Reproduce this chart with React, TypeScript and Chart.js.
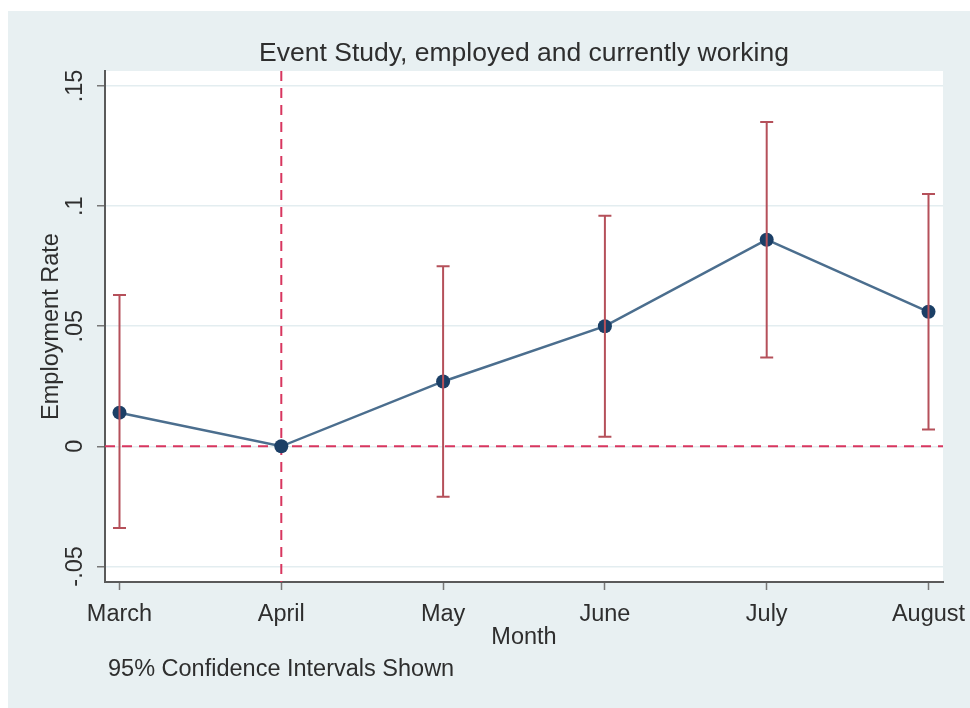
import React, { useEffect, useRef } from "react";
import { Chart, registerables } from "chart.js";

Chart.register(...registerables);

// Event-study estimates by month with 95% confidence bounds
const months = ["March", "April", "May", "June", "July", "August"];
const estimates = [0.014, 0, 0.027, 0.05, 0.086, 0.056];
const ciLower = [-0.034, 0, -0.021, 0.004, 0.037, 0.007];
const ciUpper = [0.063, 0, 0.075, 0.096, 0.135, 0.105];
const yTickValues = [-0.05, 0, 0.05, 0.1, 0.15];
const yTickLabels = ["-.05", "0", ".05", ".1", ".15"];
const eventMonthIndex = 1;

const FONT = '"Liberation Sans", Arial, sans-serif';
const TEXT = "#2e2e2e";
const FRAME_BG = "#e8f0f2";
const REF_RED = "#d8365f";
const CI_RED = "#b5505a";
const LINE_BLUE = "#4b6e8e";
const MARKER_NAVY = "#1b3f66";

const backgroundPlugin = {
  id: "stataBackground",
  beforeDraw(chart: any) {
    const { ctx, width, height, chartArea } = chart;
    ctx.save();
    ctx.fillStyle = "#ffffff";
    ctx.fillRect(0, 0, width, height);
    ctx.fillStyle = FRAME_BG;
    ctx.fillRect(8, 11, width - 8, height - 11);
    ctx.fillStyle = "#ffffff";
    ctx.fillRect(chartArea.left, chartArea.top, chartArea.right - chartArea.left, chartArea.bottom - chartArea.top);
    ctx.restore();
  },
};

const referenceLinesPlugin = {
  id: "referenceLines",
  beforeDatasetsDraw(chart: any) {
    const { ctx, chartArea, scales } = chart;
    const x0 = scales.x.getPixelForValue(eventMonthIndex);
    const y0 = scales.y.getPixelForValue(0);
    ctx.save();
    ctx.strokeStyle = REF_RED;
    ctx.lineWidth = 2;
    ctx.setLineDash([10, 7]);
    ctx.beginPath();
    ctx.moveTo(chartArea.left, y0);
    ctx.lineTo(chartArea.right, y0);
    ctx.stroke();
    ctx.beginPath();
    ctx.moveTo(x0, chartArea.top);
    ctx.lineTo(x0, chartArea.bottom);
    ctx.stroke();
    ctx.restore();
  },
};

const errorBarsPlugin = {
  id: "confidenceIntervals",
  afterDatasetsDraw(chart: any) {
    const { ctx, scales } = chart;
    ctx.save();
    ctx.strokeStyle = CI_RED;
    ctx.lineWidth = 2;
    months.forEach((_, i) => {
      if (ciLower[i] === ciUpper[i]) return;
      const px = scales.x.getPixelForValue(i);
      const lo = scales.y.getPixelForValue(ciLower[i]);
      const hi = scales.y.getPixelForValue(ciUpper[i]);
      ctx.beginPath();
      ctx.moveTo(px, lo);
      ctx.lineTo(px, hi);
      ctx.moveTo(px - 6.5, lo);
      ctx.lineTo(px + 6.5, lo);
      ctx.moveTo(px - 6.5, hi);
      ctx.lineTo(px + 6.5, hi);
      ctx.stroke();
    });
    ctx.restore();
  },
};

const annotationsPlugin = {
  id: "verticalTicksAndNote",
  afterDraw(chart: any) {
    const { ctx, scales } = chart;
    const y = scales.y;
    ctx.save();
    ctx.font = `23.5px ${FONT}`;
    ctx.fillStyle = TEXT;
    ctx.textAlign = "center";
    ctx.textBaseline = "middle";
    yTickValues.forEach((v, i) => {
      const py = y.getPixelForValue(v);
      ctx.save();
      ctx.translate(y.right - 29.5, py);
      ctx.rotate(-Math.PI / 2);
      ctx.fillText(yTickLabels[i], 0, 0);
      ctx.restore();
    });
    ctx.textAlign = "left";
    ctx.fillText("95% Confidence Intervals Shown", 108, 669.5);
    ctx.restore();
  },
};

export default function App() {
  const canvasRef = useRef<HTMLCanvasElement | null>(null);

  useEffect(() => {
    document.documentElement.style.overflow = "hidden";
    document.body.style.margin = "0";
    if (!canvasRef.current) return;
    const chart = new Chart(canvasRef.current, {
      type: "line",
      data: {
        datasets: [
          {
            data: estimates.map((v, i) => ({ x: i, y: v })),
            borderColor: LINE_BLUE,
            borderWidth: 2.5,
            pointRadius: 7,
            pointBackgroundColor: MARKER_NAVY,
            pointBorderWidth: 0,
            tension: 0,
          },
        ],
      },
      options: {
        responsive: false,
        animation: false,
        devicePixelRatio: 1,
        layout: { padding: { left: 0, right: 27, top: 0, bottom: 0 } },
        plugins: {
          legend: { display: false },
          tooltip: { enabled: false },
          title: {
            display: true,
            text: "Event Study, employed and currently working",
            fullSize: false,
            color: TEXT,
            font: { family: FONT, size: 26.5, weight: "normal" },
            padding: { top: 38, bottom: 1.2 },
          },
        },
        scales: {
          x: {
            type: "linear",
            min: -0.0896,
            max: 5.0896,
            afterBuildTicks: (scale: any) => {
              scale.ticks = months.map((_, i) => ({ value: i }));
            },
            afterFit: (scale: any) => {
              scale.height = 126;
              scale.paddingLeft = 0;
              scale.paddingRight = 0;
            },
            ticks: {
              callback: (v: any) => months[v] ?? "",
              color: TEXT,
              font: { family: FONT, size: 23.5 },
              padding: 10.4,
              maxRotation: 0,
              autoSkip: false,
            },
            grid: {
              drawOnChartArea: false,
              drawTicks: true,
              tickLength: 8,
              tickColor: "#777777",
              tickWidth: 1.5,
            },
            border: { display: true, color: "#5a5a5a", width: 2 },
            title: {
              display: true,
              text: "Month",
              color: TEXT,
              font: { family: FONT, size: 23.5 },
              padding: { top: 0, bottom: 55.9 },
            },
          },
          y: {
            type: "linear",
            min: -0.0565,
            max: 0.15625,
            afterBuildTicks: (scale: any) => {
              scale.ticks = yTickValues.map((v) => ({ value: v }));
            },
            afterFit: (scale: any) => {
              scale.width = 105;
            },
            ticks: { display: false },
            grid: {
              color: "#e3edf0",
              lineWidth: 1.5,
              drawTicks: true,
              tickLength: 8,
              tickColor: "#777777",
              tickWidth: 1.5,
            },
            border: { display: true, color: "#5a5a5a", width: 2 },
            title: {
              display: true,
              text: "Employment Rate",
              color: TEXT,
              font: { family: FONT, size: 23.5 },
              padding: { top: 37.5, bottom: 0 },
            },
          },
        },
      },
      plugins: [backgroundPlugin, referenceLinesPlugin, errorBarsPlugin, annotationsPlugin],
    } as any);
    return () => chart.destroy();
  }, []);

  return (
    <div style={{ position: "fixed", left: 0, top: 0, width: 970, height: 708 }}>
      <canvas ref={canvasRef} width={970} height={708} style={{ display: "block" }} />
    </div>
  );
}
